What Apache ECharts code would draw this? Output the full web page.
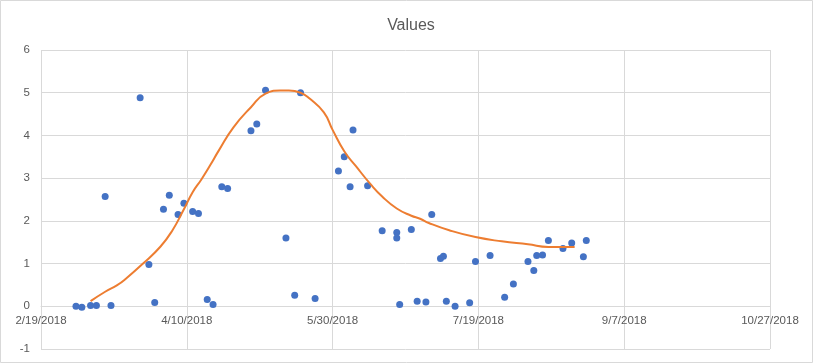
<!DOCTYPE html>
<html>
<head>
<meta charset="utf-8">
<script src="https://cdn.jsdelivr.net/npm/echarts@6/dist/echarts.min.js"></script>
<style>html,body{margin:0;padding:0;background:#fff;}#chart{width:814px;height:364px;}</style>
</head>
<body>
<div id="chart"></div>
<script>
var title = "Values";
var axisStart = "2018-02-19";
var xTickStep = 50;
var yTicks = [-1, 0, 1, 2, 3, 4, 5, 6];

var pointDates = [
  "2018-03-03","2018-03-05","2018-03-08","2018-03-10","2018-03-13","2018-03-15",
  "2018-03-25","2018-03-28","2018-03-30","2018-04-02","2018-04-04","2018-04-07",
  "2018-04-09","2018-04-12","2018-04-14","2018-04-17","2018-04-19","2018-04-22",
  "2018-04-24","2018-05-02","2018-05-04","2018-05-07","2018-05-14","2018-05-17",
  "2018-05-19","2018-05-24","2018-06-01","2018-06-03","2018-06-05","2018-06-06",
  "2018-06-11","2018-06-16","2018-06-21","2018-06-21","2018-06-22","2018-06-26",
  "2018-06-28","2018-07-01","2018-07-03","2018-07-06","2018-07-07","2018-07-08",
  "2018-07-11","2018-07-16","2018-07-18","2018-07-23","2018-07-28","2018-07-31",
  "2018-08-05","2018-08-07","2018-08-08","2018-08-10","2018-08-12","2018-08-17",
  "2018-08-20","2018-08-24","2018-08-25"
];
var pointValues = [
  0.00,-0.02,0.02,0.02,2.57,0.02,
  4.88,0.98,0.09,2.27,2.60,2.15,
  2.41,2.22,2.17,0.16,0.04,2.80,
  2.76,4.11,4.27,5.06,1.60,0.26,
  5.00,0.18,3.17,3.50,2.80,4.13,
  2.82,1.77,1.73,1.60,0.04,1.80,
  0.12,0.10,2.15,1.12,1.17,0.12,
  0.00,0.08,1.05,1.19,0.21,0.52,
  1.05,0.84,1.19,1.20,1.54,1.35,
  1.48,1.16,1.54
];

var trendDates = [
  "2018-03-08","2018-03-13","2018-03-17","2018-03-20","2018-03-26","2018-04-01",
  "2018-04-05","2018-04-09","2018-04-12","2018-04-15","2018-04-18","2018-04-21",
  "2018-04-26","2018-05-02","2018-05-07","2018-05-12","2018-05-15","2018-05-19",
  "2018-05-22","2018-05-27","2018-05-30","2018-06-03","2018-06-07","2018-06-12",
  "2018-06-16","2018-06-21","2018-06-26","2018-06-29","2018-07-02","2018-07-09",
  "2018-07-18","2018-07-27","2018-08-05","2018-08-12","2018-08-21"
];
var trendValues = [
  0.12,0.34,0.49,0.64,1.00,1.40,
  1.77,2.27,2.67,2.97,3.30,3.65,
  4.19,4.66,4.98,5.05,5.05,5.00,
  4.87,4.54,4.13,3.63,3.28,2.86,
  2.57,2.29,2.12,2.05,1.95,1.78,
  1.62,1.52,1.45,1.39,1.39
];

var DAY = 86400000;
function toMs(s){ var p = s.split("-"); return Date.UTC(+p[0], +p[1]-1, +p[2]); }
var startMs = toMs(axisStart);
function toDay(s){ return Math.round((toMs(s) - startMs) / DAY); }
function fmt(v){
  var d = new Date(startMs + v * DAY);
  return (d.getUTCMonth()+1) + "/" + d.getUTCDate() + "/" + d.getUTCFullYear();
}

var scatterData = pointDates.map(function(d, i){ return [toDay(d), pointValues[i]]; });
var trendData = trendDates.map(function(d, i){ return [toDay(d), trendValues[i]]; });

var gridTop = 50, gridBottom = 15, H = 364;
var plotH = H - gridTop - gridBottom;
var yMin = yTicks[0], yMax = yTicks[yTicks.length-1];
var zeroOffset = -plotH * (0 - yMin) / (yMax - yMin);

var chart = echarts.init(document.getElementById('chart'), null, {renderer: 'canvas'});
var font = "'Liberation Sans', Arial, sans-serif";
chart.setOption({
  animation: false,
  backgroundColor: '#fff',
  title: {
    text: title, left: 406, top: 13, textAlign: 'center',
    textStyle: {fontFamily: font, fontSize: 16, fontWeight: 'normal', color: '#595959'}
  },
  graphic: [{
    type: 'rect', shape: {x: 0.5, y: 0.5, width: 812, height: 362},
    style: {fill: null, stroke: '#D9D9D9', lineWidth: 1}, silent: true, z: -1
  }],
  grid: {left: 41, right: 44, top: gridTop, bottom: gridBottom, containLabel: false},
  xAxis: {
    type: 'value', min: 0, max: xTickStep * 5, interval: xTickStep,
    position: 'bottom', offset: zeroOffset,
    axisLine: {show: true, onZero: false, lineStyle: {color: '#D9D9D9'}},
    axisTick: {show: false},
    splitLine: {show: true, lineStyle: {color: '#D9D9D9', width: 1}},
    axisLabel: {
      formatter: fmt, margin: 9, color: '#595959', fontFamily: font, fontSize: 11.5,
      showMinLabel: true, showMaxLabel: true, hideOverlap: false
    }
  },
  yAxis: {
    type: 'value', min: yMin, max: yMax, interval: 1,
    axisLine: {show: false}, axisTick: {show: false},
    splitLine: {show: true, lineStyle: {color: '#D9D9D9', width: 1}},
    axisLabel: {margin: 11, color: '#595959', fontFamily: font, fontSize: 11.5}
  },
  series: [
    {
      type: 'scatter', name: 'Values', data: scatterData, symbol: 'circle', symbolSize: 7,
      itemStyle: {color: '#4472C4', opacity: 1}, z: 2
    },
    {
      type: 'line', name: 'Trend', data: trendData, smooth: 0.5,
      showSymbol: false, lineStyle: {color: '#ED7D31', width: 2}, z: 3
    }
  ]
});
</script>
</body>
</html>
